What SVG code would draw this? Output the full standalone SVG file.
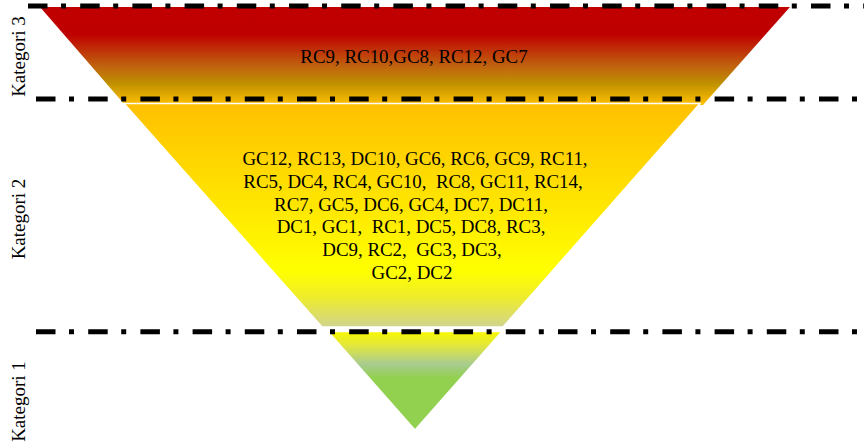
<svg xmlns="http://www.w3.org/2000/svg" width="864" height="448" viewBox="0 0 864 448">
  <defs>
    <linearGradient id="g3" x1="0" y1="7" x2="0" y2="105" gradientUnits="userSpaceOnUse">
      <stop offset="0" stop-color="#C00000"/>
      <stop offset="0.28" stop-color="#BF0000"/>
      <stop offset="0.6" stop-color="#C0620F"/>
      <stop offset="0.78" stop-color="#BF9000"/>
      <stop offset="1" stop-color="#FFC000"/>
    </linearGradient>
    <linearGradient id="g2" x1="0" y1="103.5" x2="0" y2="327" gradientUnits="userSpaceOnUse">
      <stop offset="0" stop-color="#FFC000"/>
      <stop offset="0.75" stop-color="#FFFF00"/>
      <stop offset="0.86" stop-color="#F0EE28"/>
      <stop offset="1" stop-color="#D0D48C"/>
    </linearGradient>
    <linearGradient id="g1" x1="0" y1="331.5" x2="0" y2="430" gradientUnits="userSpaceOnUse">
      <stop offset="0" stop-color="#F8F800"/>
      <stop offset="0.15" stop-color="#E0E640"/>
      <stop offset="0.33" stop-color="#A8CC90"/>
      <stop offset="0.47" stop-color="#92D050"/>
      <stop offset="1" stop-color="#92D050"/>
    </linearGradient>
  </defs>
  <style>
    .band { stroke: #FFFFFF; stroke-width: 1.5; stroke-linejoin: miter; }
    .sep { stroke: #000000; stroke-width: 5; stroke-dasharray: 19.5 13.5 5 14.2; fill: none; }
    .lbl { font-family: "Liberation Serif", "Times New Roman", serif; font-size: 18.9px; fill: #000000; text-anchor: middle; white-space: pre; }
    .cat { font-family: "Liberation Serif", "Times New Roman", serif; font-size: 19px; fill: #000000; text-anchor: middle; }
  </style>

  <g id="kategori3-band">
    <polygon points="40,7 790,7 703,105 125,105" fill="url(#g3)"/>
  </g>
  <g id="kategori2-band">
    <polygon class="band" points="124,103.5 700,103.5 503,327 322,327" fill="url(#g2)"/>
  </g>
  <g id="kategori1-band">
    <polygon class="band" points="328,331.5 502,331.5 415,430" fill="url(#g1)"/>
  </g>

  <g id="separators">
    <line class="sep" x1="28" y1="6" x2="864" y2="6"/>
    <line class="sep" x1="36" y1="99" x2="864" y2="99"/>
    <line class="sep" x1="36" y1="331.7" x2="864" y2="331.7"/>
  </g>

  <g id="kategori3-text">
    <text class="lbl" x="414" y="63">RC9, RC10,GC8, RC12, GC7</text>
  </g>
  <g id="kategori2-text">
    <text class="lbl" xml:space="preserve" x="415" y="165">GC12, RC13, DC10, GC6, RC6, GC9, RC11,</text>
    <text class="lbl" xml:space="preserve" x="413" y="188">RC5, DC4, RC4, GC10,  RC8, GC11, RC14,</text>
    <text class="lbl" xml:space="preserve" x="411" y="210.5">RC7, GC5, DC6, GC4, DC7, DC11,</text>
    <text class="lbl" xml:space="preserve" x="411" y="233">DC1, GC1,  RC1, DC5, DC8, RC3,</text>
    <text class="lbl" xml:space="preserve" x="412" y="256">DC9, RC2,  GC3, DC3,</text>
    <text class="lbl" xml:space="preserve" x="412" y="278.5">GC2, DC2</text>
  </g>

  <g id="labels">
    <text class="cat" transform="translate(25,56.5) rotate(-90)">Kategori 3</text>
    <text class="cat" transform="translate(25,219) rotate(-90)">Kategori 2</text>
    <text class="cat" transform="translate(25,401.5) rotate(-90)">Kategori 1</text>
  </g>
</svg>
